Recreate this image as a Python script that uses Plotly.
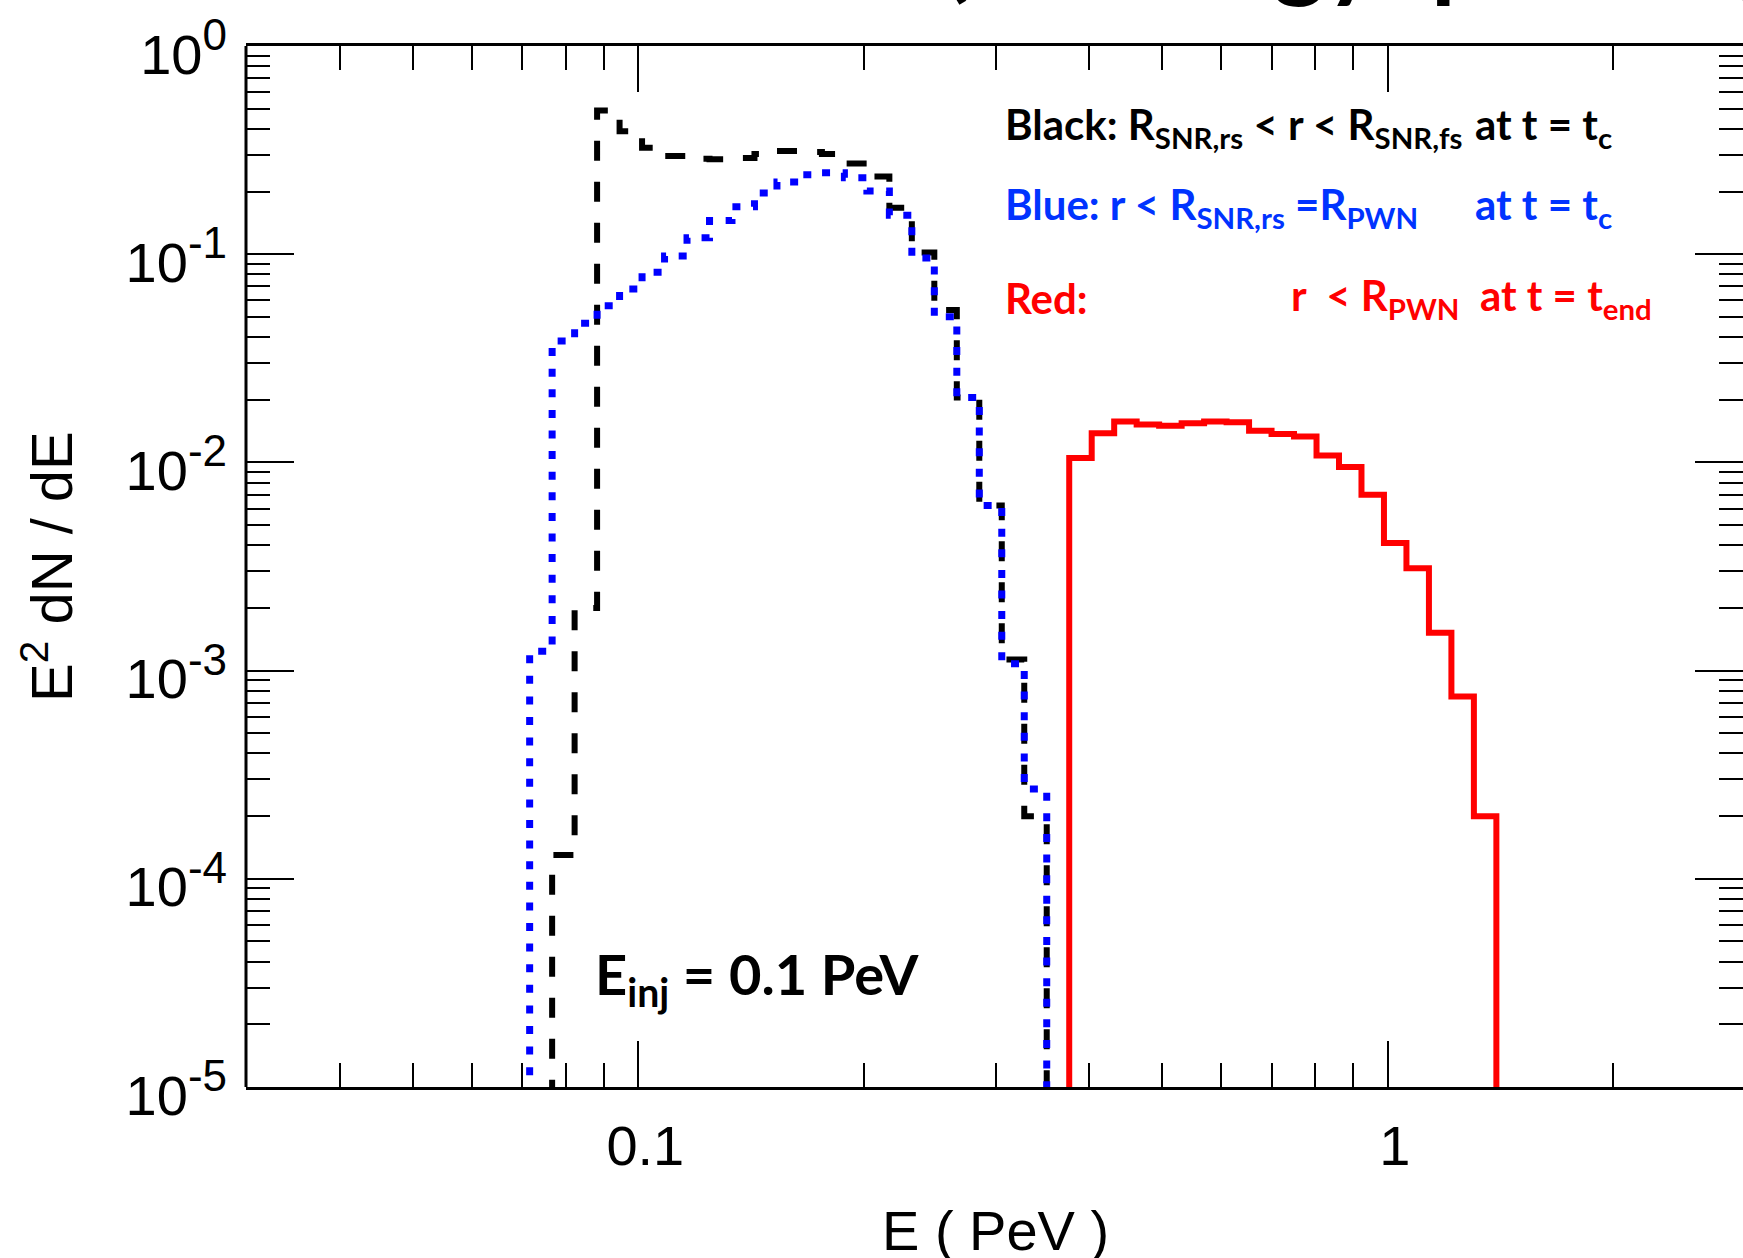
import plotly.graph_objects as go

# ---------------- data ----------------
# histogram bin edges, log10(E / PeV)  (0.03 dex bins)
log_edges = [-1.145, -1.115, -1.085, -1.055, -1.025, -0.995, -0.965, -0.935, -0.905, -0.875,
             -0.845, -0.815, -0.785, -0.755, -0.725, -0.695, -0.665, -0.635, -0.605, -0.575,
             -0.545, -0.515, -0.485, -0.455, -0.425, -0.395, -0.365, -0.335, -0.305, -0.275,
             -0.245, -0.215, -0.185, -0.155, -0.125, -0.095, -0.065, -0.035, -0.005, 0.025,
             0.055, 0.085, 0.115, 0.145]

# E^2 dN/dE per bin (None = empty bin)
black_vals = [None, 1.3e-4, 2.0e-3, 0.49, 0.39, 0.325, 0.296, 0.287, 0.286, 0.29,
              0.303, 0.313, 0.31, 0.303, 0.273, 0.236, 0.167, 0.102, 0.054, 0.0205,
              0.0062, 0.00113, 0.0002, None, None, None, None, None, None, None,
              None, None, None, None, None, None, None, None, None, None,
              None, None, None]

blue_vals = [1.24e-3, 0.0383, 0.0466, 0.0566, 0.068, 0.082, 0.098, 0.12, 0.145, 0.169,
             0.197, 0.222, 0.241, 0.246, 0.233, 0.201, 0.154, 0.096, 0.050, 0.0205,
             0.0062, 0.00108, 0.00027, None, None, None, None, None, None, None,
             None, None, None, None, None, None, None, None, None, None,
             None, None, None]

red_vals = [None, None, None, None, None, None, None, None, None, None,
            None, None, None, None, None, None, None, None, None, None,
            None, None, None, None, 0.0105, 0.0138, 0.0157, 0.0152, 0.0150, 0.0154,
            0.0157, 0.0156, 0.0142, 0.0137, 0.0133, 0.0108, 0.0095, 0.0070, 0.0041, 0.0031,
            0.00152, 0.00075, 0.00020]

x_tick_vals = [0.1, 1]
x_tick_text = ["0.1", "1"]
x_minor_vals = [0.04, 0.05, 0.06, 0.07, 0.08, 0.09, 0.2, 0.3, 0.4, 0.5, 0.6, 0.7, 0.8, 0.9, 2, 3]
y_tick_vals = [1e-5, 1e-4, 1e-3, 1e-2, 1e-1, 1]
y_tick_exp = ["-5", "-4", "-3", "-2", "-1", "0"]
y_minor_vals = [m * d for d in [1e-5, 1e-4, 1e-3, 1e-2, 1e-1] for m in range(2, 10)]

edges = [10 ** v for v in log_edges]
y_tick_text = ["10<sup><span style='font-size:44px'>%s</span></sup>" % e for e in y_tick_exp]


def step_outline(vals, floor=1e-9):
    idx = [i for i, v in enumerate(vals) if v is not None]
    i0, i1 = idx[0], idx[-1]
    xs, ys = [edges[i0]], [floor]
    for i in range(i0, i1 + 1):
        xs.append(edges[i])
        ys.append(vals[i] if vals[i] is not None else floor)
    xs.append(edges[i1 + 1])
    ys.append(floor)
    return xs, ys


fig = go.Figure()
bx, by = step_outline(black_vals)
fig.add_trace(go.Scatter(x=bx, y=by, mode="lines", line_shape="hv",
                         line=dict(color="black", width=6, dash="20px,21px")))
ux, uy = step_outline(blue_vals)
fig.add_trace(go.Scatter(x=ux, y=uy, mode="lines", line_shape="hv",
                         line=dict(color="#0000ff", width=7, dash="8px,12.6px")))
rx, ry = step_outline(red_vals)
fig.add_trace(go.Scatter(x=rx, y=ry, mode="lines", line_shape="hv",
                         line=dict(color="#ff0000", width=6)))

W, H = 1743, 1258
L, R, T, B = 246, 0, 46, 171
PW, PH = W - L - R, H - T - B


def px(x):
    return (x - L) / PW


def py(y):
    return (H - B - y) / PH


tickfont = dict(family="Liberation Sans, Arial, sans-serif", size=56, color="black")

fig.update_layout(
    width=W, height=H,
    margin=dict(l=L, r=R, t=T, b=B, pad=0),
    paper_bgcolor="white", plot_bgcolor="white",
    showlegend=False,
    xaxis=dict(type="log", range=[-1.5235, 0.4741], showgrid=False, zeroline=False,
               showline=True, linewidth=3, linecolor="black", mirror="ticks",
               ticks="inside", ticklen=46, tickwidth=2, tickcolor="black",
               tickmode="array", tickvals=x_tick_vals, ticktext=x_tick_text,
               tickfont=tickfont, ticklabelstandoff=8, ticklabelshift=7,
               minor=dict(ticks="inside", ticklen=24, tickwidth=2, tickcolor="black",
                          tickmode="array", tickvals=x_minor_vals, showgrid=False)),
    yaxis=dict(type="log", range=[-5, 0], showgrid=False, zeroline=False,
               showline=False, mirror="ticks",
               ticks="inside", ticklen=48, tickwidth=2, tickcolor="black",
               tickmode="array", tickvals=y_tick_vals, ticktext=y_tick_text,
               tickfont=tickfont, ticklabelstandoff=18, ticklabelshift=8,
               ticklabeloverflow="allow",
               minor=dict(ticks="inside", ticklen=24, tickwidth=2, tickcolor="black",
                          tickmode="array", tickvals=y_minor_vals, showgrid=False)),
)

# left axis line
fig.add_shape(type="line", xref="paper", yref="paper", x0=0, x1=0, y0=0, y1=1,
              line=dict(color="black", width=3))

lab = "Lato, Calibri, Carlito, sans-serif"
ann = []
# axis titles
ann.append(dict(text="E<sup>2</sup> dN / dE", x=px(47), y=py(567), textangle=-90,
                xanchor="center", yanchor="middle",
                font=dict(family="Liberation Sans, Arial", size=58, color="black")))
ann.append(dict(text="E ( PeV )", x=px(995), y=py(1230), xanchor="center", yanchor="middle",
                font=dict(family="Liberation Sans, Arial", size=56, color="black")))
# cut-off title at the very top (only the lowest parts of the glyphs are visible)
title_font = dict(family=lab, size=100, color="black")
ann.append(dict(text="<b>(</b>", x=px(940), y=py(12), xanchor="left", yanchor="bottom",
                font=title_font))
ann.append(dict(text="<b>Energy</b>", x=px(1068), y=py(12), xanchor="left", yanchor="bottom",
                font=title_font))
ann.append(dict(text="<b>spectra</b>", x=px(1385), y=py(12), xanchor="left", yanchor="bottom",
                font=title_font))
ann.append(dict(text="<b>(</b>", x=px(1726), y=py(12), xanchor="left", yanchor="bottom",
                font=title_font))
# legend-like texts
fs = 42
ann.append(dict(text="<b>Black: R<sub>SNR,rs</sub> &lt; r &lt; R<sub>SNR,fs</sub></b>",
                x=px(1003), y=py(127), xanchor="left", yanchor="middle",
                font=dict(family=lab, size=fs, color="black")))
ann.append(dict(text="<b>at t = t<sub>c</sub></b>", x=px(1473), y=py(127), xanchor="left",
                yanchor="middle", font=dict(family=lab, size=fs, color="black")))
ann.append(dict(text="<b>Blue: r &lt; R<sub>SNR,rs</sub> =R<sub>PWN</sub></b>",
                x=px(1003), y=py(207), xanchor="left", yanchor="middle",
                font=dict(family=lab, size=fs, color="#0033ff")))
ann.append(dict(text="<b>at t = t<sub>c</sub></b>", x=px(1473), y=py(207), xanchor="left",
                yanchor="middle", font=dict(family=lab, size=fs, color="#0033ff")))
ann.append(dict(text="<b>Red:</b>", x=px(1003), y=py(298), xanchor="left", yanchor="middle",
                font=dict(family=lab, size=fs, color="#ff0000")))
ann.append(dict(text="<b>r  &lt; R<sub>PWN</sub>  at t = t<sub>end</sub></b>",
                x=px(1289), y=py(298), xanchor="left", yanchor="middle",
                font=dict(family=lab, size=fs, color="#ff0000")))
ann.append(dict(text="<b>E<sub>inj</sub> = 0.1 PeV</b>", x=px(593), y=py(977),
                xanchor="left", yanchor="middle",
                font=dict(family=lab, size=56, color="black")))

for a in ann:
    a.update(xref="paper", yref="paper", showarrow=False)
    fig.add_annotation(**a)

fig.write_html("out.html")
